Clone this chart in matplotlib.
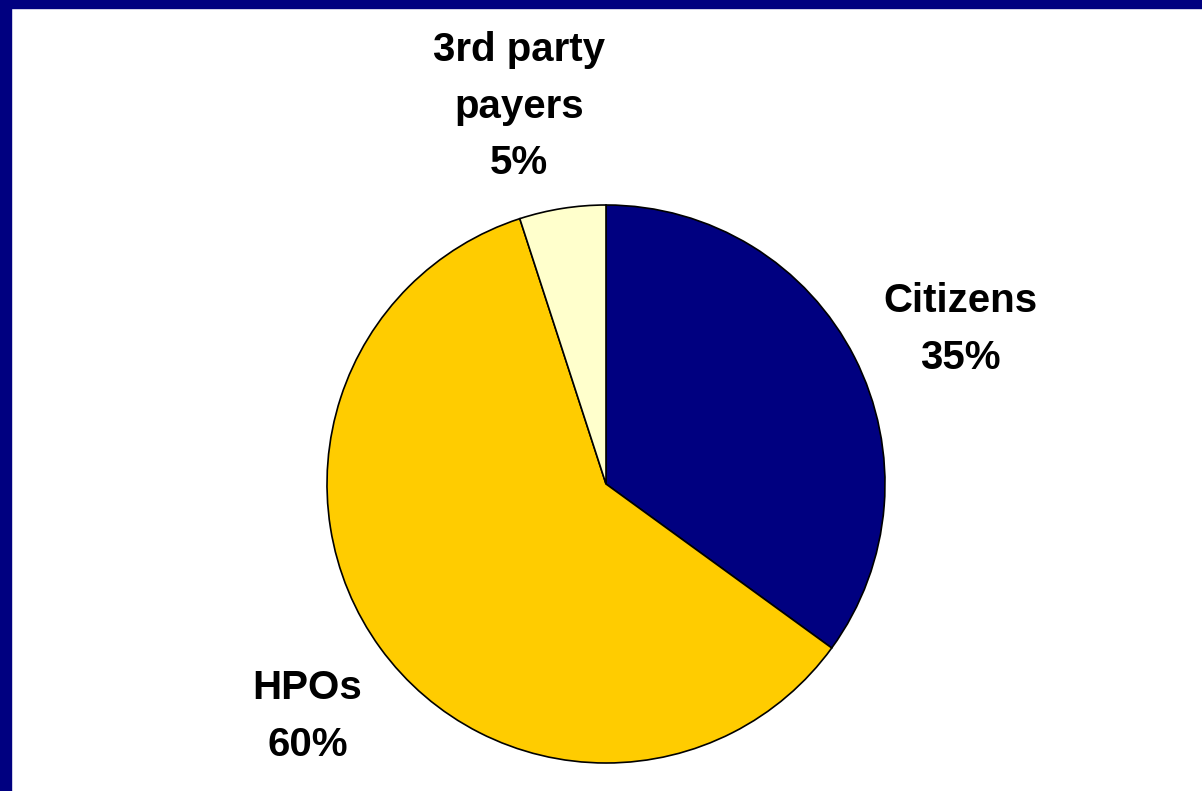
import matplotlib.pyplot as plt
from matplotlib.patches import Rectangle

# data
labels = ["Citizens", "HPOs", "3rd party\npayers"]
shares = [35, 60, 5]
colors = ["#000080", "#FFCC00", "#FFFFCC"]
# small nudges of the labels (pixels, x right / y up)
nudges = [(11, -20), (13, -6), (-27, -3)]

W, H = 1202, 791
fig = plt.figure(figsize=(W / 100, H / 100), dpi=100)
fig.patch.set_facecolor("white")

# navy frame strips on left and top
fig.patches.append(Rectangle((0, 0), 11 / W, 1, transform=fig.transFigure,
                             color="#000080", zorder=0))
fig.patches.append(Rectangle((0, 1 - 8 / H), 1, 8 / H, transform=fig.transFigure,
                             color="#000080", zorder=0))

ax = fig.add_axes([0, 0, 1, 1])
ax.set_xlim(0, W)
ax.set_ylim(0, H)
ax.set_aspect("equal")
ax.axis("off")

texts = [f"{l}\n{s}%" for l, s in zip(labels, shares)]
wedges, txts = ax.pie(
    shares, labels=texts, colors=colors, startangle=90, counterclock=False,
    center=(606, H - 484), radius=279, labeldistance=1.38,
    wedgeprops=dict(edgecolor="black", linewidth=1.2),
    textprops=dict(fontsize=29, fontweight="bold", family="Liberation Sans",
                   ha="center", va="center", linespacing=1.62),
)
for t, (dx, dy) in zip(txts, nudges):
    x, y = t.get_position()
    t.set_position((x + dx, y + dy))

ax.set_xlim(0, W)
ax.set_ylim(0, H)

fig.savefig("out.png", dpi=100)
